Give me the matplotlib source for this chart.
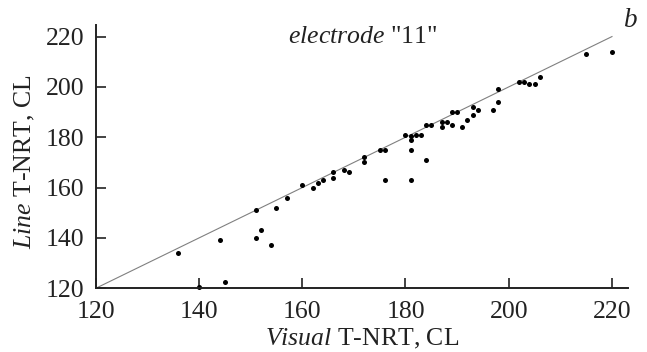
import matplotlib
matplotlib.use("Agg")
import matplotlib.pyplot as plt

plt.rcParams['font.family'] = ['Liberation Serif', 'DejaVu Serif']
plt.rcParams['mathtext.fontset'] = 'custom'
plt.rcParams['mathtext.rm'] = 'Liberation Serif'
plt.rcParams['mathtext.it'] = 'Liberation Serif:italic'

visual = [136, 140, 144, 145, 151, 151, 152, 154, 155, 157, 160, 162, 163, 164,
          166, 166, 168, 169, 172, 172, 175, 176, 176, 180, 181, 181, 181, 181,
          182, 183, 184, 184, 185, 187, 187, 188, 189, 189, 190, 191, 192, 193,
          193, 194, 197, 198, 198, 202, 203, 204, 205, 206, 215, 220]
line = [134, 120.5, 139, 122.5, 151, 140, 143, 137, 152, 156, 161, 160, 162, 163,
        166, 164, 167, 166, 172, 170, 175, 175, 163, 181, 180.5, 179, 175, 163,
        181, 181, 171, 185, 185, 184, 186, 186, 185, 190, 190, 184, 187, 189,
        192, 191, 191, 194, 199, 202, 202, 201, 201, 204, 213, 214]
ticks = [120, 140, 160, 180, 200, 220]

TXT = '#222222'
FS = 18.5

fig = plt.figure(figsize=(6.47, 3.52), dpi=100)
ax = fig.add_axes([0.148, 0.181, 0.8226, 0.748])

ax.plot([120, 220], [120, 220], color='#808080', lw=0.8, zorder=1)
ax.scatter(visual, line, s=13, color='black', zorder=2, linewidths=0, clip_on=False)

ax.set_xlim(120, 223.1)
ax.set_ylim(120, 224.6)
ax.set_xticks(ticks)
ax.set_yticks(ticks)
ax.tick_params(direction='in', length=7, width=1.2, labelsize=FS, colors=TXT)
ax.tick_params(axis='x', pad=9.0)
ax.tick_params(axis='y', pad=8.4)
for s in ['top', 'right']:
    ax.spines[s].set_visible(False)
for s in ['left', 'bottom']:
    ax.spines[s].set_linewidth(1.4)
    ax.spines[s].set_color(TXT)

fig.text(0.560, 0.020, r'$\mathit{Visual}$ T-NRT, CL', fontsize=FS, ha='center', va='baseline', color=TXT)
fig.text(0.039, 0.54, r'$\mathit{Line}$ T-NRT, CL', fontsize=FS, ha='center', va='center', rotation=90, color=TXT)
fig.text(0.560, 0.895, r'$\mathit{electrode}$ "11"', fontsize=FS, ha='center', va='center', color=TXT)
fig.text(0.975, 0.943, r'$\mathit{b}$', fontsize=FS + 1, ha='center', va='center', color=TXT)

fig.savefig('out.png', dpi=100)
